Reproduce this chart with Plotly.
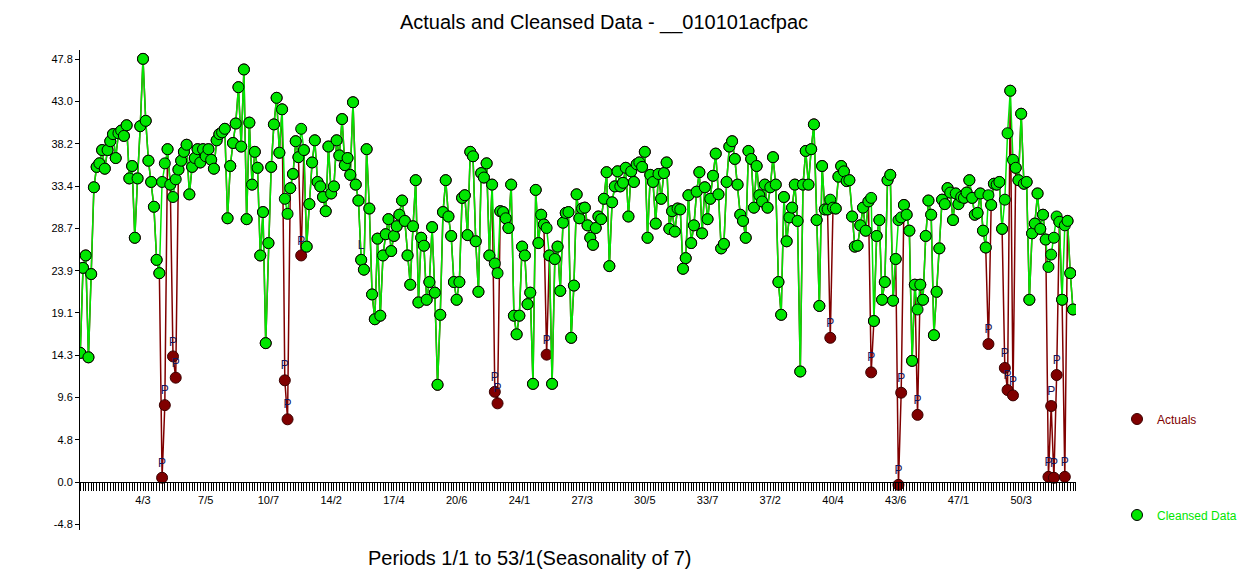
import plotly.graph_objects as go

# ---------------- data ----------------
chart_title = "Actuals and Cleansed Data - __010101acfpac"
x_axis_title = "Periods 1/1 to 53/1(Seasonality of 7)"

cleansed = [
    # periods 1-30
    14.6, 24.2, 25.6, 14.1, 23.5, 33.3, 35.6, 36.0, 37.5, 35.4,
    37.5, 38.5, 39.3, 36.6, 39.4, 39.7, 39.1, 40.3, 34.3, 35.7,
    27.6, 34.3, 40.2, 47.8, 40.8, 36.3, 33.9, 31.1, 25.1, 23.6,
    # 31-61
    33.9, 36.0, 37.6, 33.6, 32.2, 34.2, 35.3, 36.3, 37.3, 38.1,
    32.5, 35.6, 36.6, 37.6, 36.1, 37.6, 36.8, 37.6, 36.4, 35.4,
    38.6, 39.3, 39.5, 39.9, 29.8, 35.7, 38.3, 40.5, 44.6, 37.9,
    46.6,
    # 62-93
    29.7, 40.6, 33.6, 37.3, 35.5, 25.6, 30.5, 15.7, 27.0, 35.6,
    40.4, 43.4, 37.2, 42.1, 32.0, 30.3, 33.2, 34.8, 38.5, 36.7,
    39.9, 37.5, 26.6, 31.4, 36.1, 38.6, 33.9, 33.4, 32.2, 30.6,
    37.9, 32.6,
    # 94-125
    33.4, 38.6, 36.9, 41.0, 35.8, 36.6, 34.7, 42.9, 33.6, 31.8,
    25.1, 24.0, 37.6, 30.9, 21.2, 18.4, 27.5, 18.8, 25.6, 28.0,
    29.7, 26.1, 27.8, 28.9, 30.2, 31.8, 29.5, 25.6, 22.3, 28.9,
    34.1, 20.3,
    # 126-154
    27.6, 26.7, 20.6, 22.6, 28.8, 21.4, 11.0, 18.9, 30.5, 34.1,
    30.0, 27.8, 22.6, 20.6, 22.6, 32.1, 32.4, 27.9, 37.3, 36.8,
    27.2, 21.5, 34.9, 34.4, 36.0, 25.6, 33.6, 24.7, 23.6,
    # 155-185
    30.6, 30.5, 29.8, 28.7, 33.6, 18.8, 16.7, 18.8, 26.6, 25.6,
    20.1, 21.4, 11.1, 33.0, 27.0, 30.2, 29.1, 28.7, 25.6, 11.1,
    25.2, 26.6, 21.6, 29.3, 30.4, 30.5, 16.3, 22.2, 32.5, 29.8,
    30.9,
    # 186-216
    31.0, 29.0, 27.6, 26.8, 28.7, 30.0, 29.7, 32.0, 35.0, 24.4,
    31.6, 33.4, 35.1, 33.4, 33.8, 35.5, 30.0, 35.1, 33.9, 35.9,
    36.1, 35.6, 37.3, 27.6, 34.7, 33.9, 29.2, 34.8, 32.0, 34.9,
    36.1,
    # 217-246
    28.6, 30.6, 28.3, 30.9, 30.8, 24.1, 25.3, 32.4, 27.0, 29.0,
    32.8, 35.0, 28.1, 33.3, 29.7, 32.0, 34.6, 37.1, 32.5, 26.4,
    26.9, 33.9, 37.9, 38.5, 36.5, 33.6, 30.2, 29.5, 27.6, 37.4,
    # 247-277
    36.5, 31.0, 35.7, 32.4, 31.7, 33.6, 31.0, 33.3, 36.7, 33.6,
    22.6, 18.9, 32.2, 27.2, 29.9, 31.0, 33.6, 29.5, 12.5, 33.6,
    37.4, 33.6, 37.6, 40.4, 29.6, 19.9, 35.7, 30.8, 30.8, 31.9,
    31.0,
    # 278-307
    30.9, 34.5, 35.7, 35.1, 34.0, 34.1, 30.0, 26.6, 26.7, 29.0,
    31.0, 28.4, 31.7, 32.1, 18.2, 27.8, 29.6, 20.6, 22.6, 34.1,
    34.7, 20.5, 25.2, 29.6, 29.9, 31.3, 30.2, 28.4, 13.7, 22.3,
    # 308-338
    19.5, 22.3, 20.6, 27.8, 31.8, 30.2, 16.6, 21.5, 26.4, 31.9,
    31.4, 33.2, 32.7, 29.6, 32.6, 31.4, 32.2, 32.1, 32.7, 34.1,
    32.1, 30.2, 30.4, 32.6, 28.4, 26.5, 32.4, 31.3, 33.7, 33.6,
    33.9,
    # 339-365
    28.6, 31.9, 39.4, 44.2, 36.4, 35.5, 34.1, 41.6, 33.7, 33.9,
    20.6, 28.1, 29.2, 32.6, 28.6, 30.2, 27.4, 24.3, 25.7, 27.6,
    30.0, 29.4, 20.6, 29.0, 29.5, 23.6, 19.5,
]

outlier_periods = [31, 32, 35, 36, 76, 77, 82, 153, 154, 172, 276, 291,
                   301, 302, 308, 334, 340, 341, 343, 356, 357, 358, 359, 362]
outlier_actuals = [0.5, 8.7, 14.2, 11.8, 11.5, 7.1, 25.6, 10.2, 8.9, 14.4, 16.3, 12.4,
                   -0.3, 10.1, 7.6, 15.6, 12.9, 10.4, 9.8, 0.6, 8.6, 0.5, 12.1, 0.6]
level_periods = [104]

x_tick_periods = [24, 47, 70, 93, 116, 139, 162, 185, 208, 231, 254, 277, 300, 323, 346]
x_tick_labels = ["4/3", "7/5", "10/7", "14/2", "17/4", "20/6", "24/1", "27/3",
                 "30/5", "33/7", "37/2", "40/4", "43/6", "47/1", "50/3"]

y_tick_step = 4.777
y_tick_labels = ["-4.8", "0.0", "4.8", "9.6", "14.3", "19.1", "23.9",
                 "28.7", "33.4", "38.2", "43.0", "47.8"]

# ---------------- derived ----------------
periods = list(range(1, len(cleansed) + 1))
actuals = list(cleansed)
for p, v in zip(outlier_periods, outlier_actuals):
    actuals[p - 1] = v

lab_x, lab_y, lab_t = [], [], []
for p in outlier_periods:
    lab_x.append(p); lab_y.append(actuals[p - 1]); lab_t.append("P")
for p in level_periods:
    lab_x.append(p); lab_y.append(actuals[p - 1]); lab_t.append("L")

y_tick_vals = [k * y_tick_step for k in range(-1, len(y_tick_labels) - 1)]

RED = "#800000"
GREEN = "#00e600"
FONT = "Arial, Liberation Sans, sans-serif"

y_range = [-5.4, 48.8]
x_range = [0.9, 366.1]

fig = go.Figure()
fig.add_trace(go.Scatter(
    x=periods, y=actuals, mode="lines+markers", name="Actuals",
    line=dict(color=RED, width=1.5),
    marker=dict(size=11, color=RED, line=dict(color="#3c0000", width=1)),
    showlegend=False, hoverinfo="x+y"))
fig.add_trace(go.Scatter(
    x=periods, y=cleansed, mode="lines+markers", name="Cleansed Data",
    line=dict(color=GREEN, width=1.5),
    marker=dict(size=11, color=GREEN, line=dict(color="black", width=1)),
    showlegend=False, hoverinfo="x+y"))
fig.add_trace(go.Scatter(
    x=lab_x, y=lab_y, mode="markers+text", text=lab_t,
    textposition="top center",
    textfont=dict(family=FONT, size=12, color="#14145a"),
    marker=dict(size=11, color="rgba(0,0,0,0)"),
    showlegend=False, hoverinfo="skip"))

# legend entries
fig.add_trace(go.Scatter(
    x=[None], y=[None], mode="markers", name="Actuals", legend="legend",
    marker=dict(size=11, color=RED, line=dict(color="#3c0000", width=1))))
fig.add_trace(go.Scatter(
    x=[None], y=[None], mode="markers", name="Cleansed Data", legend="legend2",
    marker=dict(size=11, color=GREEN, line=dict(color="black", width=1))))

W, H = 1259, 573
ml, mr, mt, mb = 80, 183, 50, 43

fig.update_layout(
    width=W, height=H,
    margin=dict(l=ml, r=mr, t=mt, b=mb),
    paper_bgcolor="white", plot_bgcolor="white",
    font=dict(family=FONT, color="black"),
    title=dict(text=chart_title, x=604 / W, xref="container", xanchor="center",
               y=1 - 22 / H, yref="container", yanchor="middle",
               font=dict(size=20, color="black", family=FONT)),
    xaxis=dict(range=x_range, anchor="free",
               position=(0 - y_range[0]) / (y_range[1] - y_range[0]),
               showline=True, linecolor="black", linewidth=1,
               ticks="outside", ticklen=8, tickcolor="black", tickwidth=1,
               tickmode="array", tickvals=x_tick_periods, ticktext=x_tick_labels,
               tickfont=dict(size=11, color="black"),
               minor=dict(tick0=1, dtick=1, ticks="outside", ticklen=8,
                          tickcolor="black", tickwidth=1, showgrid=False),
               showgrid=False, zeroline=False),
    yaxis=dict(range=y_range, showline=True, linecolor="black", linewidth=1,
               ticks="outside", ticklen=4, tickcolor="black",
               tickmode="array", tickvals=y_tick_vals, ticktext=y_tick_labels,
               tickfont=dict(size=11, color="black"),
               showgrid=False, zeroline=False),
    legend=dict(x=1117 / W, xref="container", xanchor="left",
                y=1 - 419 / H, yref="container", yanchor="middle",
                bgcolor="rgba(0,0,0,0)", borderwidth=0, itemwidth=30,
                font=dict(size=12, color=RED, family=FONT)),
    legend2=dict(x=1117 / W, xref="container", xanchor="left",
                 y=1 - 515 / H, yref="container", yanchor="middle",
                 bgcolor="rgba(0,0,0,0)", borderwidth=0, itemwidth=30,
                 font=dict(size=12, color=GREEN, family=FONT)),
    annotations=[dict(text=x_axis_title, xref="paper", yref="paper",
                      x=(530 - ml) / (W - ml - mr), y=(H - mb - 558) / (H - mt - mb),
                      xanchor="center", yanchor="middle", showarrow=False,
                      font=dict(size=20, color="black", family=FONT))],
)

fig.write_html("out.html",
               config={"displayModeBar": False},
               post_script="document.body.style.margin='0';"
                           "document.body.style.overflow='hidden';")
